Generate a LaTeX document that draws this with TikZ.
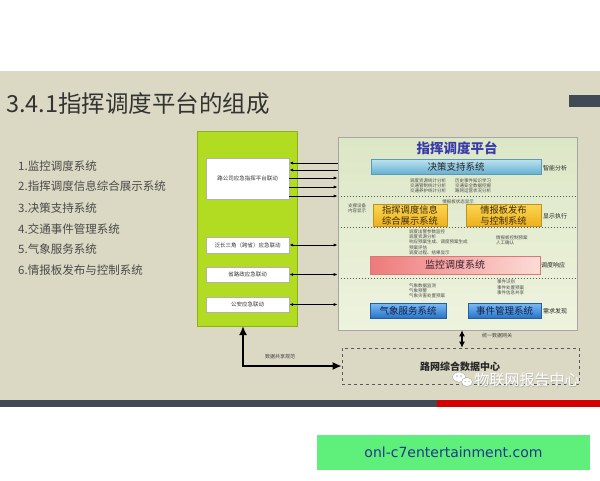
\documentclass[tikz,border=0pt]{standalone}
\usepackage{fontspec}
\setmainfont{Noto Sans CJK SC}
\newfontfamily\urlfont{DejaVu Sans}
\usetikzlibrary{arrows.meta,calc}
\definecolor{bgbeige}{HTML}{DBD8C3}
\definecolor{limeg}{HTML}{B2DC22}
\definecolor{limeb}{HTML}{8DB312}
\definecolor{titlec}{HTML}{333333}
\definecolor{listc}{HTML}{4A4A4A}
\definecolor{platt}{HTML}{3A3AAA}
\definecolor{darkbar}{HTML}{404A57}
\definecolor{redbar}{HTML}{D40000}
\definecolor{urlg}{HTML}{5EF07A}
\definecolor{urlt}{HTML}{23388A}
\definecolor{plattop}{HTML}{DCE7C6}
\definecolor{platbot}{HTML}{EEF3DE}
\definecolor{jcdraw}{HTML}{5A9AB8}
\definecolor{jctop}{HTML}{BDE4F0}
\definecolor{jcbot}{HTML}{66B0D2}
\definecolor{ydraw}{HTML}{C09020}
\definecolor{ytop}{HTML}{FBD651}
\definecolor{ybot}{HTML}{EDB11E}
\definecolor{ytext}{HTML}{3A2A10}
\definecolor{rdraw}{HTML}{D87878}
\definecolor{rleft}{HTML}{EE7A7A}
\definecolor{rright}{HTML}{FCDCD6}
\definecolor{rtext}{HTML}{3A2030}
\definecolor{bdraw}{HTML}{1F5FA8}
\definecolor{btop}{HTML}{7DBCF4}
\definecolor{bbot}{HTML}{2A72C6}
\definecolor{btext}{HTML}{10204A}
\tikzset{
  wbox/.style={draw=gray!60, fill=white, minimum width=83pt, inner sep=0pt, font=\fontsize{5.5}{6}\selectfont, text=black!80},
  arr/.style={-{Latex[length=4pt,width=3pt]}, line width=1pt},
  darr/.style={{Latex[length=4pt,width=3pt]}-{Latex[length=4pt,width=3pt]}, line width=1pt},
  bigarr/.style={{Latex[length=9pt,width=8pt]}-{Latex[length=9pt,width=8pt]}, line width=2.6pt},
  gwarr/.style={{Latex[length=6pt,width=6pt]}-{Latex[length=6pt,width=6pt]}, line width=2pt},
  dotline/.style={gray!70!black, line width=0.5pt, dash pattern=on 1.5pt off 1.5pt},
  sysbox/.style={inner sep=0pt, align=center, line width=0.5pt},
  small/.style={font=\fontsize{4.5}{5.4}\selectfont, text=black!70, align=left, inner sep=0pt},
  side/.style={font=\fontsize{6}{6}\selectfont, text=black!85, inner sep=0pt},
  listitem/.style={anchor=west, font=\fontsize{11.5}{12}\selectfont, text=listc, inner sep=0pt}
}
\begin{document}
\begin{tikzpicture}[x=1pt,y=-1pt]
\useasboundingbox (0,0) rectangle (600,480);
\fill[white] (0,0) rectangle (600,480);
\fill[bgbeige] (0,71) rectangle (600,400);
\fill[darkbar] (569,95) rectangle (600,107);
\fill[darkbar] (0,400) rectangle (437,407);
\fill[redbar] (437,400) rectangle (600,407);

\node[anchor=west, font=\fontsize{23.5}{24}\selectfont, text=titlec, inner sep=0pt] (title) at (6,104) {3.4.1指挥调度平台的组成};

\node[listitem] (l1) at (18,166) {1.监控调度系统};
\node[listitem] (l2) at (18,186.5) {2.指挥调度信息综合展示系统};
\node[listitem] (l3) at (18,208) {3.决策支持系统};
\node[listitem] (l4) at (18,229) {4.交通事件管理系统};
\node[listitem] (l5) at (18,249.5) {5.气象服务系统};
\node[listitem] (l6) at (18,270.5) {6.情报板发布与控制系统};

% green box
\node[draw=limeb, fill=limeg, minimum width=100pt, minimum height=195pt, inner sep=0pt] (green) at (247,228.5) {};
\node[wbox, minimum height=41pt] (wb1) at (247.5,178.5) {路公司应急指挥平台联动};
\node[wbox, minimum height=16pt] (wb2) at (247.5,245) {泛长三角（跨省）应急联动};
\node[wbox, minimum height=15pt] (wb3) at (247.5,274.5) {省路政应急联动};
\node[wbox, minimum height=15pt] (wb4) at (247.5,304.5) {公安应急联动};

% platform
\node[draw=gray!70, line width=0.6pt, top color=plattop, bottom color=platbot, minimum width=239pt, minimum height=193pt, inner sep=0pt] (plat) at (457.5,233.5) {};
\node[font=\fontsize{13.5}{14}\selectfont\bfseries, text=platt, inner sep=0pt] (ptitle) at (457,148) {指挥调度平台};

\node[sysbox, draw=jcdraw, top color=jctop, bottom color=jcbot, minimum width=170pt, minimum height=15pt, font=\fontsize{9.5}{10}\selectfont, text=black!85] (jc) at (456,166.5) {决策支持系统};
\node[side] (s1) at (555,168) {智能分析};
\node[small, anchor=north] (jc1) at (428,178) {调度资源统计分析\\交通管制统计分析\\交通养护统计分析};
\node[small, anchor=north] (jc2) at (473,178) {历史事件知识学习\\交通安全数据挖掘\\路网运营状况分析};
\draw[dotline] ($(plat.west |- 0,196)+(3,0)$) -- ($(plat.east |- 0,196)+(-2,0)$);

\node[small] (qb) at (458,202) {情报板状态显示};
\node[small, align=center] (zc) at (357,208) {支撑设备\\内容显示};
\node[sysbox, draw=ydraw, top color=ytop, bottom color=ybot, minimum width=74pt, minimum height=22pt, font=\fontsize{9.3}{11}\selectfont, text=ytext] (zh) at (410,215) {指挥调度信息\\综合展示系统};
\node[sysbox, draw=ydraw, top color=ytop, bottom color=ybot, minimum width=75pt, minimum height=22pt, font=\fontsize{9.3}{11}\selectfont, text=ytext] (qbf) at (503.5,215) {情报板发布\\与控制系统};
\node[side] (s2) at (555,216) {显示执行};
\draw[dotline] ($(plat.west |- 0,227.5)+(3,0)$) -- ($(plat.east |- 0,227.5)+(-2,0)$);

\node[small, anchor=north west] (jk1) at (409,229) {调度出警参数监控\\调度资源分析\\响应预案生成、调度预案生成\\预案评估\\调度过程、结果显示};
\node[small, anchor=north west] (jk2) at (496,235) {情报板控制预案\\人工确认};
\node[sysbox, draw=rdraw, left color=rleft, right color=rright, minimum width=170pt, minimum height=18pt, font=\fontsize{10}{10}\selectfont, text=rtext] (jk) at (455,265) {监控调度系统};
\node[side] (s3) at (553,265) {调度响应};
\draw[dotline] ($(plat.west |- 0,278.5)+(3,0)$) -- ($(plat.east |- 0,278.5)+(-2,0)$);

\node[small, anchor=north west] (qx1) at (409,283) {气象数据监测\\气象预警\\气象灾害处置预案};
\node[small, anchor=north west] (sj1) at (497,280) {事件识别\\事件处置预案\\事件信息共享};
\node[sysbox, draw=bdraw, top color=btop, bottom color=bbot, minimum width=76pt, minimum height=15pt, font=\fontsize{9.5}{10}\selectfont, text=btext] (qx) at (408,310.5) {气象服务系统};
\node[sysbox, draw=bdraw, top color=btop, bottom color=bbot, minimum width=73pt, minimum height=15pt, font=\fontsize{9.5}{10}\selectfont, text=btext] (sj) at (504.5,310.5) {事件管理系统};
\node[side] (s4) at (555,311) {需求发现};

% arrows between green and platform
\draw[arr] (plat.west |- 0,163) -- (wb1.east |- 0,163);
\draw[arr] (plat.west |- 0,170) -- (wb1.east |- 0,170);
\draw[arr] (wb1.east |- 0,178) -- (plat.west |- 0,178);
\draw[arr] (wb1.east |- 0,187) -- (plat.west |- 0,187);
\draw[arr] (wb1.east |- 0,196) -- (plat.west |- 0,196);
\draw[darr] (wb2.east) -- (plat.west |- wb2.east);
\draw[darr] (wb3.east) -- (plat.west |- wb3.east);
\draw[darr] (wb4.east) -- (plat.west |- wb4.east);

% data center
\node[draw=gray!70!black, dashed, line width=0.6pt, minimum width=237pt, minimum height=36pt, inner sep=0pt] (dc) at (460.5,366) {};
\node[font=\fontsize{10}{10}\selectfont\bfseries, text=black!85, inner sep=0pt] (dct) at (460,366.5) {路网综合数据中心};
\coordinate (gs) at (243,326);
\draw[bigarr] (gs) |- (dc.west);
\node[font=\fontsize{5}{5}\selectfont, text=black!75, inner sep=0pt] (gx) at (280,357) {数据共享规范};
\draw[gwarr] (plat.south -| 462,0) -- (dc.north -| 462,0);
\node[font=\fontsize{5}{5}\selectfont, text=black!75, inner sep=0pt] (gw) at (497,336) {统一数据网关};

% watermark
\draw[fill=white, draw=gray!60, line width=0.5pt] (459,377) ellipse [x radius=6.5pt, y radius=5pt];
\draw[fill=white, draw=gray!60, line width=0.5pt] (467,382) ellipse [x radius=5.5pt, y radius=4.5pt];
\fill[gray!60] (457,376) circle (0.8pt) (461,376) circle (0.8pt) (465,381.5) circle (0.7pt) (469,381.5) circle (0.7pt);
\node[font=\fontsize{15}{15}\selectfont, text=gray!60, inner sep=0pt] (wm0) at (527.6,380.6) {物联网报告中心};
\node[font=\fontsize{15}{15}\selectfont, text=white, inner sep=0pt] (wm) at (527,380) {物联网报告中心};

% url box
\node[fill=urlg, minimum width=273pt, minimum height=35pt, inner sep=0pt, font=\urlfont\fontsize{14}{14}\selectfont, text=urlt] (url) at (453.5,452.5) {onl-c7entertainment.com};
\end{tikzpicture}
\end{document}
